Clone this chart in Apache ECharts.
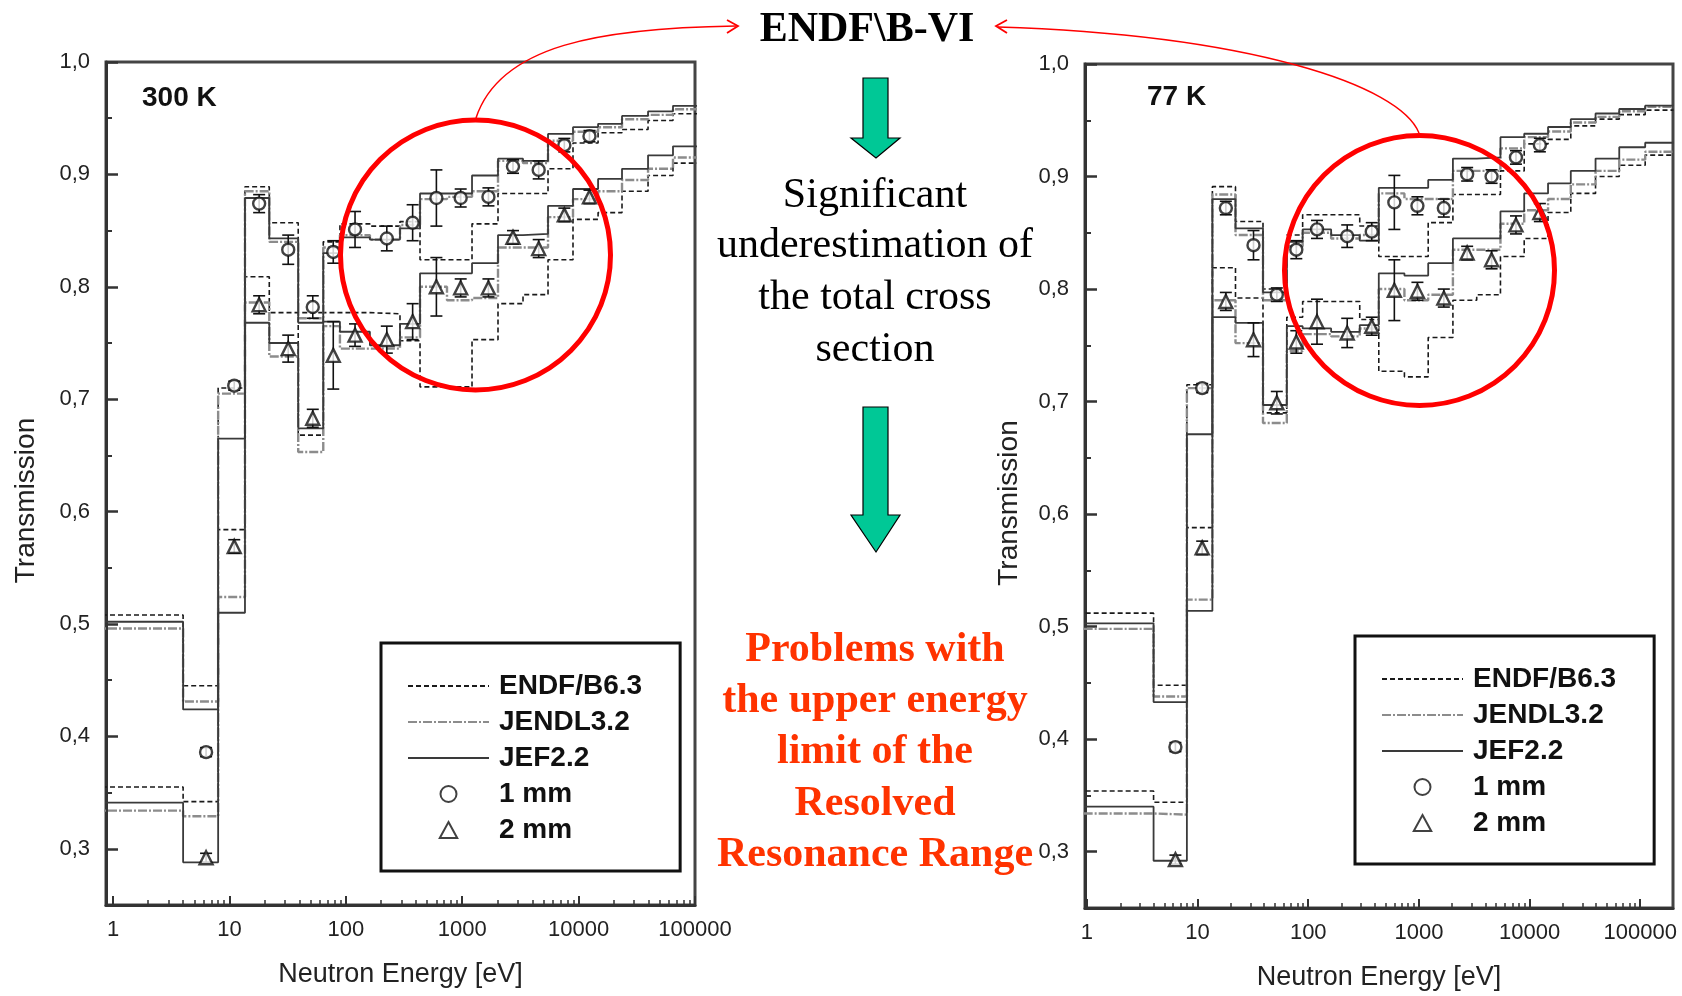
<!DOCTYPE html>
<html>
<head>
<meta charset="utf-8">
<script src="https://cdn.jsdelivr.net/npm/echarts@6/dist/echarts.min.js"></script>
<style>
  html, body { margin: 0; padding: 0; background: #fff; }
  #chart { width: 1682px; height: 996px; }
</style>
</head>
<body>
<div id="chart"></div>
<script>
// Group boundaries of the calculated transmission (eV)
const binEdges = [0.5, 4, 8, 13.6, 22, 39, 64, 89, 161, 292, 434, 740, 1214, 2030, 3330, 5460, 8950, 14700, 23600, 39500, 64700, 111000, 200000];

// Energies of the measured points (eV)
const measEnergy = [6.3, 11, 18, 32, 52, 78, 120, 225, 375, 600, 970, 1680, 2730, 4540, 7540, 12400];

// ---- 300 K ----
const t300_1mm = [0.386, 0.712, 0.874, 0.833, 0.782, 0.831, 0.851, 0.843, 0.857, 0.879, 0.879, 0.880, 0.907, 0.904, 0.926, 0.934];
const u300_1mm = [0.004, 0.004, 0.008, 0.013, 0.010, 0.010, 0.016, 0.011, 0.016, 0.025, 0.008, 0.008, 0.006, 0.008, 0.006, 0.005];
const t300_2mm = [0.292, 0.569, 0.784, 0.745, 0.683, 0.739, 0.757, 0.753, 0.769, 0.800, 0.799, 0.799, 0.844, 0.834, 0.864, 0.880];
const u300_2mm = [0.004, 0.006, 0.008, 0.012, 0.008, 0.030, 0.010, 0.012, 0.016, 0.026, 0.008, 0.008, 0.006, 0.008, 0.006, 0.006];

const endf300_1mm  = [0.508, 0.445, 0.710, 0.889, 0.857, 0.777, 0.840, 0.856, 0.854, 0.858, 0.824, 0.824, 0.856, 0.883, 0.883, 0.905, 0.928, 0.937, 0.940, 0.948, 0.954];
const jendl300_1mm = [0.496, 0.431, 0.705, 0.885, 0.840, 0.772, 0.835, 0.846, 0.842, 0.855, 0.878, 0.880, 0.885, 0.912, 0.910, 0.930, 0.938, 0.942, 0.949, 0.953, 0.958];
const jef300_1mm   = [0.502, 0.424, 0.665, 0.879, 0.843, 0.768, 0.830, 0.844, 0.842, 0.852, 0.883, 0.883, 0.899, 0.914, 0.912, 0.936, 0.942, 0.945, 0.952, 0.956, 0.961];
const endf300_2mm  = [0.355, 0.342, 0.584, 0.809, 0.777, 0.668, 0.777, 0.777, 0.776, 0.752, 0.711, 0.711, 0.753, 0.785, 0.793, 0.824, 0.860, 0.866, 0.885, 0.899, 0.910];
const jendl300_2mm = [0.334, 0.329, 0.524, 0.786, 0.738, 0.653, 0.765, 0.745, 0.745, 0.755, 0.800, 0.788, 0.790, 0.835, 0.835, 0.862, 0.878, 0.885, 0.895, 0.905, 0.915];
const jef300_2mm   = [0.341, 0.288, 0.510, 0.768, 0.750, 0.674, 0.769, 0.760, 0.748, 0.767, 0.812, 0.812, 0.821, 0.846, 0.847, 0.872, 0.887, 0.896, 0.905, 0.917, 0.925];

// ---- 77 K ----
const t77_1mm = [0.393, 0.712, 0.872, 0.839, 0.795, 0.835, 0.853, 0.847, 0.851, 0.877, 0.874, 0.872, 0.902, 0.900, 0.917, 0.928];
const u77_1mm = [0.004, 0.004, 0.006, 0.013, 0.006, 0.008, 0.008, 0.010, 0.008, 0.024, 0.008, 0.008, 0.006, 0.006, 0.006, 0.006];
const t77_2mm = [0.293, 0.570, 0.789, 0.755, 0.699, 0.753, 0.771, 0.761, 0.767, 0.799, 0.798, 0.792, 0.832, 0.826, 0.857, 0.868];
const u77_2mm = [0.004, 0.006, 0.008, 0.015, 0.010, 0.010, 0.020, 0.013, 0.008, 0.027, 0.008, 0.008, 0.006, 0.008, 0.008, 0.008];

const endf77_1mm  = [0.512, 0.448, 0.715, 0.891, 0.860, 0.800, 0.848, 0.866, 0.866, 0.856, 0.829, 0.829, 0.859, 0.884, 0.884, 0.905, 0.929, 0.933, 0.945, 0.951, 0.955, 0.959];
const jendl77_1mm = [0.498, 0.438, 0.712, 0.884, 0.848, 0.790, 0.838, 0.850, 0.845, 0.848, 0.885, 0.880, 0.880, 0.905, 0.905, 0.925, 0.935, 0.940, 0.948, 0.953, 0.958, 0.962];
const jef77_1mm   = [0.503, 0.433, 0.671, 0.880, 0.854, 0.797, 0.842, 0.853, 0.848, 0.843, 0.890, 0.890, 0.897, 0.916, 0.917, 0.935, 0.938, 0.944, 0.951, 0.956, 0.960, 0.963];
const endf77_2mm  = [0.354, 0.344, 0.588, 0.819, 0.792, 0.690, 0.775, 0.789, 0.789, 0.773, 0.727, 0.722, 0.757, 0.790, 0.795, 0.829, 0.845, 0.868, 0.885, 0.900, 0.910, 0.919];
const jendl77_2mm = [0.334, 0.333, 0.524, 0.790, 0.752, 0.681, 0.745, 0.760, 0.758, 0.765, 0.800, 0.790, 0.795, 0.835, 0.835, 0.858, 0.870, 0.880, 0.893, 0.905, 0.915, 0.922];
const jef77_2mm   = [0.340, 0.292, 0.514, 0.775, 0.770, 0.697, 0.767, 0.765, 0.762, 0.768, 0.814, 0.812, 0.823, 0.845, 0.845, 0.869, 0.885, 0.894, 0.905, 0.916, 0.926, 0.930];

// Axis ticks
const energyTicks = [1, 10, 100, 1000, 10000, 100000];
const energyMinorTicks = [2,3,4,5,6,7,8,9, 20,30,40,50,60,70,80,90, 200,300,400,500,600,700,800,900,
  2000,3000,4000,5000,6000,7000,8000,9000, 20000,30000,40000,50000,60000,70000,80000,90000, 200000];
const transTicks = [0.3, 0.4, 0.5, 0.6, 0.7, 0.8, 0.9, 1.0];
const transMinorTicks = [0.35, 0.45, 0.55, 0.65, 0.75, 0.85, 0.95];

const libraryNames = ['ENDF/B6.3', 'JENDL3.2', 'JEF2.2'];
const sampleNames = ['1 mm', '2 mm'];

const SANS = '"Liberation Sans", Arial, sans-serif';
const SERIF = '"Liberation Serif", "Times New Roman", serif';

const libStyle = {
  'ENDF/B6.3': { color: '#1a1a1a', width: 1.6, type: [5, 3] },
  'JENDL3.2':  { color: '#8c8c8c', width: 2.4, type: [9, 2, 2, 2] },
  'JEF2.2':    { color: '#3a3a3a', width: 1.8, type: 'solid' }
};

function stepPoints(values) {
  const pts = values.map((v, i) => [binEdges[i], v]);
  pts.push([binEdges[values.length], values[values.length - 1]]);
  return pts;
}

function stepSeries(name, values, axisIndex) {
  return {
    type: 'line', name, step: 'end', data: stepPoints(values),
    xAxisIndex: axisIndex, yAxisIndex: axisIndex,
    symbol: 'none', clip: true, z: 2, silent: true,
    itemStyle: { color: libStyle[name].color },
    lineStyle: libStyle[name]
  };
}

function pointSeries(name, values, axisIndex) {
  return {
    type: 'scatter', name,
    data: values.map((v, i) => [measEnergy[i], v]),
    xAxisIndex: axisIndex, yAxisIndex: axisIndex,
    symbol: name === '1 mm' ? 'circle' : 'triangle',
    symbolSize: name === '1 mm' ? 12 : 13,
    itemStyle: { color: '#ffffff', borderColor: '#111', borderWidth: 2.4 },
    z: 5
  };
}

function errorSeries(values, errs, axisIndex) {
  return {
    type: 'custom', name: 'uncertainty',
    xAxisIndex: axisIndex, yAxisIndex: axisIndex, z: 4, silent: true,
    data: values.map((v, i) => [measEnergy[i], v, errs[i]]),
    renderItem(params, api) {
      const x = api.value(0), y = api.value(1), e = api.value(2);
      const hi = api.coord([x, y + e]);
      const lo = api.coord([x, y - e]);
      const hw = 6;
      const st = { stroke: '#111', lineWidth: 1.6 };
      return {
        type: 'group', children: [
          { type: 'line', shape: { x1: hi[0], y1: hi[1], x2: lo[0], y2: lo[1] }, style: st },
          { type: 'line', shape: { x1: hi[0] - hw, y1: hi[1], x2: hi[0] + hw, y2: hi[1] }, style: st },
          { type: 'line', shape: { x1: lo[0] - hw, y1: lo[1], x2: lo[0] + hw, y2: lo[1] }, style: st }
        ]
      };
    }
  };
}

function inRange(arr, min, max) { return arr.filter(v => v >= min && v <= max); }

function xAxes(gridIndex, min, max) {
  return [
    {
      type: 'log', logBase: 10, gridIndex, min, max, position: 'bottom',
      name: 'Neutron Energy [eV]', nameLocation: 'middle', nameGap: 56,
      nameTextStyle: { fontFamily: SANS, fontSize: 27, color: '#222' },
      axisLine: { show: true, lineStyle: { color: '#333', width: 3 } },
      axisTick: { show: true, inside: true, length: 9, lineStyle: { color: '#333', width: 2 },
        customValues: inRange(energyTicks, min, max) },
      axisLabel: { show: true, margin: 14, fontFamily: SANS, fontSize: 22, color: '#222',
        customValues: inRange(energyTicks, min, max), formatter: v => String(Math.round(v)) },
      splitLine: { show: false }, minorTick: { show: false }
    },
    {
      type: 'log', logBase: 10, gridIndex, min, max, position: 'bottom',
      axisLine: { show: false },
      axisTick: { show: true, inside: true, length: 5, lineStyle: { color: '#333', width: 1.5 },
        customValues: inRange(energyMinorTicks, min, max) },
      axisLabel: { show: false }, splitLine: { show: false }
    }
  ];
}

function yAxes(gridIndex, nameGap) {
  return [
    {
      type: 'value', gridIndex, min: 0.25, max: 1.0, position: 'left',
      name: 'Transmission', nameLocation: 'middle', nameGap,
      nameTextStyle: { fontFamily: SANS, fontSize: 28, color: '#222', padding: [0, 34, 0, 0] },
      axisLine: { show: true, lineStyle: { color: '#333', width: 3 } },
      axisTick: { show: true, inside: true, length: 12, lineStyle: { color: '#333', width: 2.5 },
        customValues: transTicks },
      axisLabel: { show: true, margin: 16, fontFamily: SANS, fontSize: 22, color: '#222',
        customValues: transTicks, formatter: v => v.toFixed(1).replace('.', ',') },
      splitLine: { show: false }
    },
    {
      type: 'value', gridIndex, min: 0.25, max: 1.0, position: 'left',
      axisLine: { show: false },
      axisTick: { show: true, inside: true, length: 6, lineStyle: { color: '#333', width: 2 },
        customValues: transMinorTicks },
      axisLabel: { show: false }, splitLine: { show: false }
    }
  ];
}

function panelSeries(axisIndex, lib1, lib2, t1, u1, t2, u2) {
  const out = [];
  libraryNames.forEach((n, k) => {
    out.push(stepSeries(n, lib1[k], axisIndex));
    out.push(stepSeries(n, lib2[k], axisIndex));
  });
  out.push(errorSeries(t1, u1, axisIndex));
  out.push(errorSeries(t2, u2, axisIndex));
  out.push(pointSeries('1 mm', t1, axisIndex));
  out.push(pointSeries('2 mm', t2, axisIndex));
  return out;
}

function legendBox(left, top) {
  return {
    orient: 'vertical', left, top,
    padding: [29, 38, 27, 26],
    itemWidth: 81, itemHeight: 16, itemGap: 8,
    borderColor: '#111', borderWidth: 3,
    selectedMode: false,
    textStyle: { fontFamily: SANS, fontSize: 28, fontWeight: 'bold', color: '#111', lineHeight: 28,
      padding: [0, 0, 0, 5] },
    data: libraryNames.map(n => ({ name: n, itemStyle: { opacity: 0 } })).concat([
      { name: '1 mm' },
      { name: '2 mm', icon: 'path://M6,0 L12,11 L0,11 Z' }
    ])
  };
}

const series = []
  .concat(panelSeries(0,
    [endf300_1mm, jendl300_1mm, jef300_1mm], [endf300_2mm, jendl300_2mm, jef300_2mm],
    t300_1mm, u300_1mm, t300_2mm, u300_2mm))
  .concat(panelSeries(2,
    [endf77_1mm, jendl77_1mm, jef77_1mm], [endf77_2mm, jendl77_2mm, jef77_2mm],
    t77_1mm, u77_1mm, t77_2mm, u77_2mm));

// Central annotations
const RED = '#ff0000';
const NOTE_RED = '#ff3300';
const GREEN = '#00c896';

function centerText(text, y, opts) {
  return {
    type: 'text', z: 100,
    style: Object.assign({ x: 875, y, text, textAlign: 'center', textVerticalAlign: 'middle',
      font: '42px ' + SERIF, fill: '#000' }, opts || {})
  };
}

function downArrow(top, shaftBottom, tip) {
  return {
    type: 'polygon', z: 100,
    shape: { points: [[863, top], [888, top], [888, shaftBottom], [900, shaftBottom], [876, tip], [851, shaftBottom], [863, shaftBottom]] },
    style: { fill: GREEN, stroke: '#000', lineWidth: 1.2 }
  };
}

const graphics = [
  // highlighted regions
  { type: 'circle', z: 90, shape: { cx: 475.5, cy: 255, r: 135 }, style: { fill: null, stroke: RED, lineWidth: 5 } },
  { type: 'circle', z: 90, shape: { cx: 1419.5, cy: 270.5, r: 135 }, style: { fill: null, stroke: RED, lineWidth: 5 } },
  // connectors to the library name
  { type: 'bezierCurve', z: 90, shape: { x1: 476, y1: 118, cpx1: 500, cpy1: 45, cpx2: 600, cpy2: 28, x2: 736, y2: 26 },
    style: { fill: null, stroke: RED, lineWidth: 1.5 } },
  { type: 'polyline', z: 90, shape: { points: [[727, 20], [738, 26], [727, 33]] }, style: { fill: null, stroke: RED, lineWidth: 1.8 } },
  { type: 'bezierCurve', z: 90, shape: { x1: 1419, y1: 133, cpx1: 1400, cpy1: 85, cpx2: 1250, cpy2: 35, x2: 998, y2: 27 },
    style: { fill: null, stroke: RED, lineWidth: 1.5 } },
  { type: 'polyline', z: 90, shape: { points: [[1007, 20], [996, 26], [1007, 33]] }, style: { fill: null, stroke: RED, lineWidth: 1.8 } },
  centerText('ENDF\\B-VI', 30, { x: 867, font: 'bold 42px ' + SERIF }),
  downArrow(78, 138, 158),
  centerText('Significant', 196),
  centerText('underestimation of', 246),
  centerText('the total cross', 298),
  centerText('section', 350),
  downArrow(407, 515, 552),
  centerText('Problems with', 650, { font: 'bold 42px ' + SERIF, fill: NOTE_RED }),
  centerText('the upper energy', 701, { font: 'bold 42px ' + SERIF, fill: NOTE_RED }),
  centerText('limit of the', 752, { font: 'bold 42px ' + SERIF, fill: NOTE_RED }),
  centerText('Resolved', 804, { font: 'bold 42px ' + SERIF, fill: NOTE_RED }),
  centerText('Resonance Range', 855, { font: 'bold 42px ' + SERIF, fill: NOTE_RED })
];

const option = {
  animation: false,
  backgroundColor: '#ffffff',
  title: [
    { text: '300 K', left: 142, top: 84, padding: 0,
      textStyle: { fontFamily: SANS, fontSize: 28, fontWeight: 'bold', color: '#111' } },
    { text: '77 K', left: 1147, top: 83, padding: 0,
      textStyle: { fontFamily: SANS, fontSize: 28, fontWeight: 'bold', color: '#111' } }
  ],
  legend: [legendBox(381, 643), legendBox(1355, 636)],
  grid: [
    { left: 106, top: 62, width: 589, height: 843, show: true, borderColor: '#444', borderWidth: 3, backgroundColor: 'transparent' },
    { left: 1085, top: 64, width: 588, height: 844, show: true, borderColor: '#444', borderWidth: 3, backgroundColor: 'transparent' }
  ],
  xAxis: xAxes(0, 0.87, 100000).concat(xAxes(1, 0.96, 198000)),
  yAxis: yAxes(0, 66).concat(yAxes(1, 62)),
  series,
  graphic: graphics
};

const chart = echarts.init(document.getElementById('chart'), null, { renderer: 'canvas', width: 1682, height: 996 });
chart.setOption(option);
</script>
</body>
</html>
